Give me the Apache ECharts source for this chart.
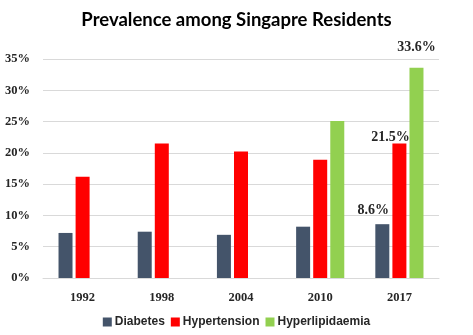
<!DOCTYPE html>
<html>
<head>
<meta charset="utf-8">
<script src="https://cdn.jsdelivr.net/npm/echarts@6/dist/echarts.min.js"></script>
<style>
  html, body { margin: 0; padding: 0; background: #fff; }
  #chart { width: 473px; height: 335px; }
</style>
</head>
<body>
<div id="chart"></div>
<script>
// Survey years and prevalence (%) per condition
const years = ['1992', '1998', '2004', '2010', '2017'];
const diabetes = [7.2, 7.4, 6.9, 8.2, 8.6];
const hypertension = [16.2, 21.5, 20.2, 18.9, 21.5];
const hyperlipidaemia = [null, null, null, 25.1, 33.6];
const yTicks = [0, 5, 10, 15, 20, 25, 30, 35];

const labelFont = "'Liberation Serif', 'DejaVu Serif', serif";
const textColor = '#262626';

// Only the most recent survey year carries a value label
function lastLabel(offset) {
  return {
    show: true,
    position: 'top',
    offset: offset,
    fontFamily: labelFont,
    fontWeight: 'bold',
    fontSize: 14,
    color: textColor,
    formatter: p => p.dataIndex === years.length - 1 ? p.value.toFixed(1) + '%' : ''
  };
}

const chart = echarts.init(document.getElementById('chart'));
chart.setOption({
  animation: false,
  title: {
    text: 'Prevalence among Singapre Residents',
    left: 'center',
    top: 6,
    textStyle: { fontFamily: 'Lato, sans-serif', fontWeight: 'bold', fontSize: 18.5, color: '#000' }
  },
  legend: {
    bottom: 2,
    left: 'center',
    itemWidth: 9,
    itemHeight: 9,
    itemGap: 6,
    icon: 'rect',
    textStyle: { fontFamily: "'Liberation Sans', Arial, sans-serif", fontWeight: 'bold', fontSize: 12, color: textColor, padding: [0, 0, 0, -2] },
    data: ['Diabetes', 'Hypertension', 'Hyperlipidaemia']
  },
  grid: { left: 43, right: 34, top: 59, bottom: 57 },
  xAxis: {
    type: 'category',
    data: years,
    axisLine: { lineStyle: { color: '#D9D9D9' } },
    axisTick: { show: false },
    axisLabel: { fontFamily: labelFont, fontWeight: 'bold', fontSize: 12.5, color: textColor, margin: 13 }
  },
  yAxis: {
    type: 'value',
    min: yTicks[0],
    max: yTicks[yTicks.length - 1],
    interval: 5,
    axisLine: { show: false },
    axisTick: { show: false },
    splitLine: { lineStyle: { color: '#D9D9D9' } },
    axisLabel: { fontFamily: labelFont, fontWeight: 'bold', fontSize: 12.5, color: textColor, margin: 13, formatter: '{value}%' }
  },
  series: [
    { name: 'Diabetes', type: 'bar', data: diabetes, barWidth: 14, barGap: '22%', itemStyle: { color: '#44546A' }, label: lastLabel([-9, -2]) },
    { name: 'Hypertension', type: 'bar', data: hypertension, barWidth: 14, barGap: '22%', itemStyle: { color: '#FF0000' }, label: lastLabel([-9, 6]) },
    { name: 'Hyperlipidaemia', type: 'bar', data: hyperlipidaemia, barWidth: 14, barGap: '22%', itemStyle: { color: '#92D050' }, label: lastLabel([0, -8]) }
  ]
});
</script>
</body>
</html>
